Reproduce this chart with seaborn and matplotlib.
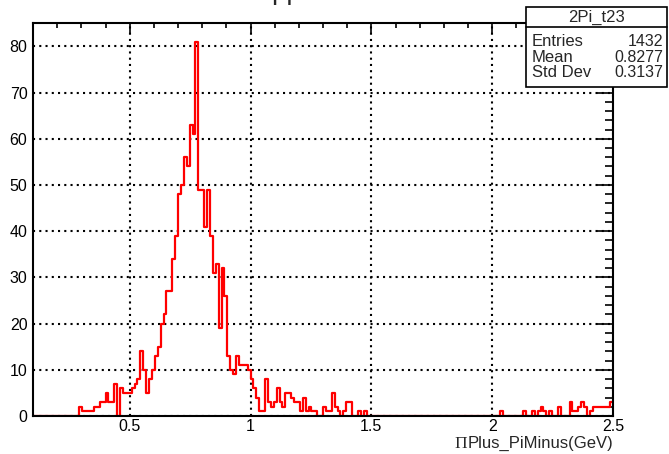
import numpy as np
import pandas as pd
import matplotlib
matplotlib.use("Agg")
import matplotlib.pyplot as plt
from matplotlib.patches import Rectangle
from matplotlib.lines import Line2D
from matplotlib.ticker import MultipleLocator
import seaborn as sns

# ---------------- data ----------------
x_low, x_high, n_bins = 0.1, 2.5, 200
counts = [
    0, 0, 0, 0, 0, 0, 0, 0, 0, 0, 0, 0, 0, 0, 0, 0, 2, 1, 1, 1,
    1, 2, 2, 3, 3, 5, 3, 3, 7, 0, 6, 5, 5, 5, 6, 7, 8, 14, 10, 5,
    8, 10, 13, 15, 20, 22, 27, 27, 34, 39, 48, 50, 56, 54, 63, 61, 81, 49, 49, 41,
    49, 39, 31, 33, 19, 32, 26, 13, 10, 9, 13, 11, 11, 11, 10, 8, 6, 4, 1, 1,
    8, 3, 2, 3, 6, 3, 2, 5, 5, 4, 3, 3, 1, 4, 1, 2, 1, 1, 0, 0,
    2, 1, 1, 5, 2, 1, 0, 1, 3, 3, 0, 0, 1, 0, 1, 0, 0, 0, 0, 0,
    0, 0, 0, 0, 0, 0, 0, 0, 0, 0, 0, 0, 0, 0, 0, 0, 0, 0, 0, 0,
    0, 0, 0, 0, 0, 0, 0, 0, 0, 0, 0, 0, 0, 0, 0, 0, 0, 0, 0, 0,
    0, 1, 0, 0, 0, 0, 0, 0, 0, 1, 0, 0, 1, 0, 1, 2, 1, 0, 1, 0,
    0, 2, 0, 0, 0, 3, 1, 1, 2, 3, 2, 0, 1, 2, 2, 2, 2, 2, 2, 3,
]
x_ticks = [0.5, 1, 1.5, 2, 2.5]
x_tick_labels = ["0.5", "1", "1.5", "2", "2.5"]
y_ticks = [0, 10, 20, 30, 40, 50, 60, 70, 80]
hist_name = "2Pi_t23"
stat_names = ["Entries", "Mean", "Std Dev"]
stat_values = ["1432", "0.8277", "0.3137"]
x_title_symbol = "\u03a0"
x_title_rest = "Plus_PiMinus(GeV)"
title_text = "pp"

edges = np.linspace(x_low, x_high, n_bins + 1)
centers = 0.5 * (edges[:-1] + edges[1:])
df = pd.DataFrame({"mass": centers, "n": counts})

# ---------------- style ----------------
sns.set_theme(style="white")
plt.rcParams["font.family"] = ["Liberation Sans", "DejaVu Sans"]

W, H = 669, 454
fig = plt.figure(figsize=(W / 100, H / 100), dpi=100)
fig.patch.set_facecolor("white")
ax_l, ax_r, ax_t, ax_b = 33, 613, 23, 416
ax = fig.add_axes([ax_l / W, 1 - ax_b / H, (ax_r - ax_l) / W, (ax_b - ax_t) / H])
ax.set_facecolor("white")

sns.histplot(data=df, x="mass", weights="n", bins=list(edges), element="step",
             fill=False, color="#ff0000", linewidth=1.6, ax=ax, zorder=2)

ax.set_xlim(x_low, x_high)
ax.set_ylim(0, max(counts) * 1.05)
ax.set_xlabel("")
ax.set_ylabel("")

ax.set_xticks(x_ticks)
ax.set_xticklabels(x_tick_labels)
ax.set_yticks(y_ticks)
ax.xaxis.set_minor_locator(MultipleLocator(0.1))
ax.yaxis.set_minor_locator(MultipleLocator(2))

ax.tick_params(axis="both", which="both", direction="in", top=True, right=True,
               color="black", labelsize=11.5, labelcolor="black")
ax.tick_params(axis="x", which="major", length=7.5, width=1.2, pad=2.5)
ax.tick_params(axis="x", which="minor", length=3.8, width=1.2)
ax.tick_params(axis="y", which="major", length=12, width=1.2, pad=4)
ax.tick_params(axis="y", which="minor", length=6, width=1.2)

ax.grid(True, which="major", color="black", linestyle=(0, (1, 2)), linewidth=1.5)

for s in ax.spines.values():
    s.set_color("black")
    s.set_linewidth(1.5)
    s.set_visible(True)
    s.set_zorder(3)

# x-axis title (right aligned at end of axis)
fig.text(ax_r / W, 1 - 443.5 / H, x_title_rest, ha="right", va="center", fontsize=12)
fig.text(454 / W, 1 - 443.5 / H, x_title_symbol, ha="left", va="center",
         fontsize=12.5, family=["Liberation Serif", "DejaVu Serif"])

# title (mostly off the top of the canvas)
fig.text(271 / W, 1 + 1 / H, title_text, ha="left", va="baseline", fontsize=20)

# stats box
bx0, bx1, by0, by1, bsep = 526, 667, 7, 87, 27
fig.add_artist(Rectangle((bx0 / W, 1 - by1 / H), (bx1 - bx0) / W, (by1 - by0) / H,
                         transform=fig.transFigure, facecolor="white",
                         edgecolor="black", linewidth=1.2, zorder=5))
fig.add_artist(Line2D([bx0 / W, bx1 / W], [1 - bsep / H, 1 - bsep / H],
                      transform=fig.transFigure, color="black", linewidth=1.2, zorder=6))
fig.text((bx0 + bx1) / 2 / W, 1 - 17 / H, hist_name, ha="center", va="center",
         fontsize=12, zorder=7)
row_y = [41.7, 57.0, 72.5]
for yy_px, nm, val in zip(row_y, stat_names, stat_values):
    yy = 1 - yy_px / H
    fig.text(532 / W, yy, nm, ha="left", va="center", fontsize=12, zorder=7)
    fig.text(663 / W, yy, val, ha="right", va="center", fontsize=11.5, zorder=7)

fig.savefig("out.png", dpi=100, facecolor="white")
